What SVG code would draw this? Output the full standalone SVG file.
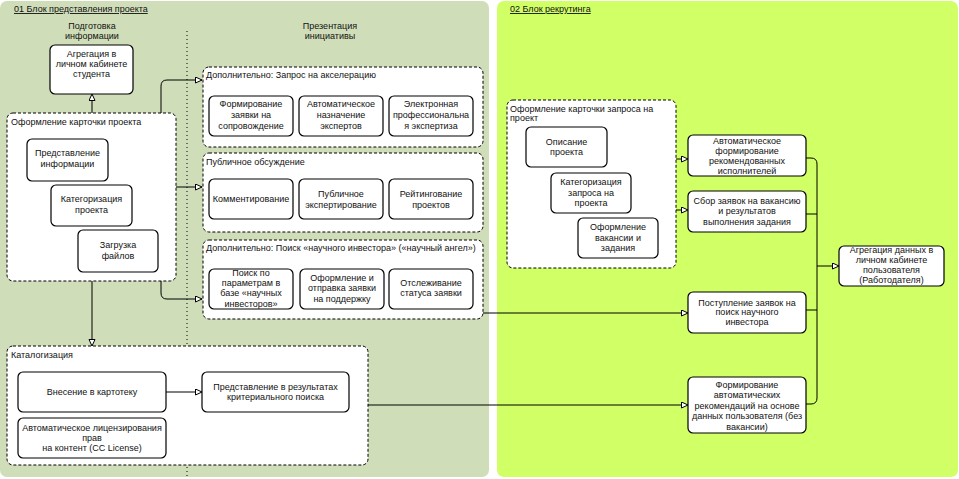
<svg xmlns="http://www.w3.org/2000/svg" width="959" height="479" viewBox="0 0 959 479">
<style>
.t{font-family:"Liberation Sans",Arial,sans-serif;font-size:9px;fill:#111}
.m{text-anchor:middle}
.box{fill:#fff;stroke:#000;stroke-width:1.2}
.grp{fill:#fff;stroke:#000;stroke-width:1;stroke-dasharray:3 2}
.ln{fill:none;stroke:#000;stroke-width:1}
.hd{text-decoration:underline}
</style>
<defs>
<marker id="arr" markerUnits="userSpaceOnUse" markerWidth="9" markerHeight="8" refX="7" refY="3.5" orient="auto">
<path d="M0.5,0.5 L7,3.5 L0.5,6.5 z" fill="#fff" stroke="#000" stroke-width="1"/>
</marker>
</defs>
<rect width="959" height="479" fill="#fff"/>
<rect x="0" y="1" width="489" height="476" rx="7" fill="#cfdeb9"/>
<rect x="497" y="1" width="461" height="476" rx="7" fill="#d1ff66"/>
<text class="t hd" x="14" y="12">01 Блок представления проекта</text>
<text class="t hd" x="510" y="12">02 Блок рекрутинга</text>
<text class="t m" x="92" y="29">Подготовка</text>
<text class="t m" x="92" y="39">информации</text>
<text class="t m" x="330" y="29">Презентация</text>
<text class="t m" x="330" y="39">инициативы</text>
<line x1="187" y1="31" x2="187" y2="476" stroke="#000" stroke-width="1" stroke-dasharray="1 3"/>

<g id="n_agg_student">
<rect class="box" x="50" y="45" width="83" height="49" rx="5"/>
<text class="t m" x="91.5" y="57">Агрегация в</text>
<text class="t m" x="91.5" y="67">личном кабинете</text>
<text class="t m" x="91.5" y="77">студента</text>
</g>

<g id="g_card">
<rect class="grp" x="7" y="113" width="169" height="168" rx="6"/>
<text class="t" x="11" y="125">Оформление карточки проекта</text>
</g>
<g id="n_pred_info">
<rect class="box" x="27" y="139" width="81" height="42" rx="5"/>
<text class="t m" x="67.5" y="156">Представление</text>
<text class="t m" x="67.5" y="167">информации</text>
</g>
<g id="n_kat_proj">
<rect class="box" x="51" y="185" width="81" height="41" rx="5"/>
<text class="t m" x="91.5" y="202">Категоризация</text>
<text class="t m" x="91.5" y="213">проекта</text>
</g>
<g id="n_zagruzka">
<rect class="box" x="78" y="230" width="80" height="42" rx="5"/>
<text class="t m" x="118" y="248">Загрузка</text>
<text class="t m" x="118" y="259">файлов</text>
</g>

<g id="g_accel">
<rect class="grp" x="203" y="67" width="280" height="80" rx="6"/>
<text class="t" x="206" y="78">Дополнительно: Запрос на акселерацию</text>
</g>
<g id="n_form_zayav">
<rect class="box" x="209" y="96" width="84" height="40" rx="5"/>
<text class="t m" x="251" y="107">Формирование</text>
<text class="t m" x="251" y="118">заявки на</text>
<text class="t m" x="251" y="129">сопровождение</text>
</g>
<g id="n_auto_naz">
<rect class="box" x="299" y="96" width="84" height="40" rx="5"/>
<text class="t m" x="341" y="107">Автоматическое</text>
<text class="t m" x="341" y="118">назначение</text>
<text class="t m" x="341" y="129">экспертов</text>
</g>
<g id="n_el_exp">
<rect class="box" x="389" y="96" width="84" height="40" rx="5"/>
<text class="t m" x="431" y="107">Электронная</text>
<text class="t m" x="431" y="118">профессиональна</text>
<text class="t m" x="431" y="129">я экспертиза</text>
</g>

<g id="g_public">
<rect class="grp" x="203" y="153" width="280" height="79" rx="6"/>
<text class="t" x="206" y="165">Публичное обсуждение</text>
</g>
<g id="n_comment">
<rect class="box" x="209" y="179" width="84" height="40" rx="5"/>
<text class="t m" x="251" y="202">Комментирование</text>
</g>
<g id="n_pub_exp">
<rect class="box" x="299" y="179" width="84" height="40" rx="5"/>
<text class="t m" x="341" y="197">Публичное</text>
<text class="t m" x="341" y="208">экспертирование</text>
</g>
<g id="n_rating">
<rect class="box" x="389" y="179" width="84" height="40" rx="5"/>
<text class="t m" x="431" y="197">Рейтингование</text>
<text class="t m" x="431" y="208">проектов</text>
</g>

<g id="g_investor">
<rect class="grp" x="203" y="240" width="280" height="79" rx="6"/>
<text class="t" x="206" y="251">Дополнительно: Поиск «научного инвестора» («научный ангел»)</text>
</g>
<g id="n_poisk">
<rect class="box" x="209" y="269" width="84" height="40" rx="5"/>
<text class="t m" x="251" y="276">Поиск по</text>
<text class="t m" x="251" y="286">параметрам в</text>
<text class="t m" x="251" y="296">базе «научных</text>
<text class="t m" x="251" y="307">инвесторов»</text>
</g>
<g id="n_oform_otpr">
<rect class="box" x="300" y="269" width="84" height="40" rx="5"/>
<text class="t m" x="342" y="281">Оформление и</text>
<text class="t m" x="342" y="291">отправка заявки</text>
<text class="t m" x="342" y="302">на поддержку</text>
</g>
<g id="n_otsl">
<rect class="box" x="389" y="269" width="84" height="40" rx="5"/>
<text class="t m" x="431" y="286">Отслеживание</text>
<text class="t m" x="431" y="296">статуса заявки</text>
</g>

<g id="g_catalog">
<rect class="grp" x="7" y="346" width="361" height="119" rx="6"/>
<text class="t" x="11" y="358">Каталогизация</text>
</g>
<g id="n_vnesenie">
<rect class="box" x="18" y="372" width="148" height="40" rx="5"/>
<text class="t m" x="92" y="395">Внесение в картотеку</text>
</g>
<g id="n_pred_res">
<rect class="box" x="202" y="372" width="147" height="40" rx="5"/>
<text class="t m" x="275.5" y="390">Представление в результатах</text>
<text class="t m" x="275.5" y="400">критериального поиска</text>
</g>
<g id="n_license">
<rect class="box" x="18" y="418" width="148" height="40" rx="5"/>
<text class="t m" x="92" y="431">Автоматическое лицензирования</text>
<text class="t m" x="92" y="441">прав</text>
<text class="t m" x="92" y="451">на контент (CC License)</text>
</g>

<g id="g_card2">
<rect class="grp" x="507" y="100" width="169" height="168" rx="6"/>
<text class="t" x="510" y="112">Оформление карточки запроса на</text>
<text class="t" x="510" y="121">проект</text>
</g>
<g id="n_opisanie">
<rect class="box" x="526" y="127" width="81" height="40" rx="5"/>
<text class="t m" x="566.5" y="145">Описание</text>
<text class="t m" x="566.5" y="155">проекта</text>
</g>
<g id="n_kat_zapr">
<rect class="box" x="551" y="173" width="80" height="40" rx="5"/>
<text class="t m" x="591" y="185">Категоризация</text>
<text class="t m" x="591" y="196">запроса на</text>
<text class="t m" x="591" y="206">проекта</text>
</g>
<g id="n_vakans">
<rect class="box" x="578" y="218" width="80" height="40" rx="5"/>
<text class="t m" x="618" y="230">Оформление</text>
<text class="t m" x="618" y="241">вакансии и</text>
<text class="t m" x="618" y="251">задания</text>
</g>

<g id="n_auto_form">
<rect class="box" x="688" y="135" width="118" height="41" rx="5"/>
<text class="t m" x="747" y="144">Автоматическое</text>
<text class="t m" x="747" y="154">формирование</text>
<text class="t m" x="747" y="164">рекомендованных</text>
<text class="t m" x="747" y="174">исполнителей</text>
</g>
<g id="n_sbor">
<rect class="box" x="688" y="191" width="118" height="41" rx="5"/>
<text class="t m" x="747" y="204">Сбор заявок на вакансию</text>
<text class="t m" x="747" y="214">и результатов</text>
<text class="t m" x="747" y="225">выполнения задания</text>
</g>
<g id="n_postupl">
<rect class="box" x="688" y="292" width="118" height="41" rx="5"/>
<text class="t m" x="747" y="306">Поступление заявок на</text>
<text class="t m" x="747" y="315">поиск научного</text>
<text class="t m" x="747" y="325">инвестора</text>
</g>
<g id="n_form_auto">
<rect class="box" x="688" y="377" width="118" height="56" rx="5"/>
<text class="t m" x="747" y="388">Формирование</text>
<text class="t m" x="747" y="398">автоматических</text>
<text class="t m" x="747" y="409">рекомендаций на основе</text>
<text class="t m" x="747" y="419">данных пользователя (без</text>
<text class="t m" x="747" y="430">вакансии)</text>
</g>
<g id="n_agg_user">
<rect class="box" x="839" y="246" width="105" height="40" rx="5"/>
<text class="t m" x="891.5" y="253">Агрегация данных в</text>
<text class="t m" x="891.5" y="263">личном кабинете</text>
<text class="t m" x="891.5" y="273">пользователя</text>
<text class="t m" x="891.5" y="283">(Работодателя)</text>
</g>

<g id="connectors">
<path class="ln" d="M92,113 V94" marker-end="url(#arr)"/>
<path class="ln" d="M161,113 V86 Q161,80 167,80 H202" marker-end="url(#arr)"/>
<path class="ln" d="M176,187 H202" marker-end="url(#arr)"/>
<path class="ln" d="M161,281 V293 Q161,299 167,299 H202" marker-end="url(#arr)"/>
<path class="ln" d="M92,281 V346" marker-end="url(#arr)"/>
<path class="ln" d="M166,392 H202" marker-end="url(#arr)"/>
<path class="ln" d="M483,313 H688" marker-end="url(#arr)"/>
<path class="ln" d="M368,405 H688" marker-end="url(#arr)"/>
<path class="ln" d="M676,159 H688" marker-end="url(#arr)"/>
<path class="ln" d="M676,210 H688" marker-end="url(#arr)"/>
<path class="ln" d="M806,158 H811 Q817,158 817,164 V398 Q817,404 811,404 H806"/>
<path class="ln" d="M806,214 H817"/>
<path class="ln" d="M806,310 H817"/>
<path class="ln" d="M817,266 H839" marker-end="url(#arr)"/>
</g>
</svg>
